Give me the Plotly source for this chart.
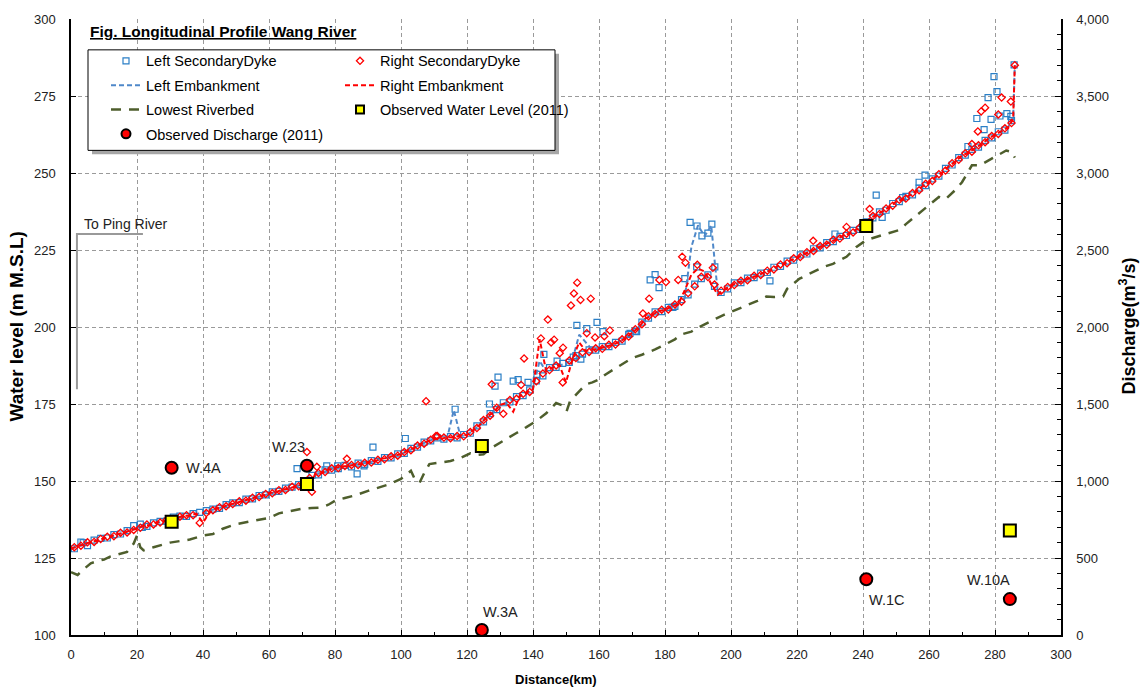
import plotly.graph_objects as go

FONT = "Liberation Sans, Arial, sans-serif"

# ---------------- data ----------------
# embankment profiles (km every 2 km, plus the last two points)
emb_km = list(range(0, 285, 2)) + [285.5, 286]
left_emb = [
    128.1, 128.8, 129.5, 130.1, 130.7, 131.3, 132.0, 132.6, 133.2, 133.9,
    134.6, 135.3, 135.8, 136.4, 137.0, 137.5, 138.0, 138.5, 138.9, 139.3,
    139.7, 140.4, 141.0, 141.7, 142.3, 142.9, 143.5, 144.1, 144.7, 145.3,
    145.9, 146.5, 147.1, 147.6, 148.2, 148.8, 150.5, 152.0, 152.7, 153.5,
    154.3, 154.6, 154.9, 155.2, 155.6, 155.9, 156.5, 157.0, 157.6, 158.1,
    158.7, 159.7, 160.8, 161.8, 162.9, 163.6, 163.8, 164.0, 173.0, 164.6,
    165.0, 166.5, 168.5, 170.5, 172.5, 174.5, 175.5, 176.5, 177.5, 178.5,
    180.0, 189.0, 185.5, 187.0, 187.5, 188.2, 189.5, 197.5, 195.0, 192.5,
    193.0, 193.5, 194.3, 195.0, 196.5, 197.9, 200.0, 202.5, 204.0, 205.0,
    205.6, 206.5, 207.5, 209.5, 226.0, 233.0, 229.5, 233.0, 211.0, 212.0,
    213.5, 214.3, 215.1, 215.9, 216.7, 217.5, 218.5, 219.5, 220.5, 221.5,
    222.5, 223.5, 224.5, 225.5, 226.5, 227.5, 228.5, 229.5, 230.5, 231.5,
    232.5, 235.0, 236.5, 237.5, 239.0, 240.5, 241.5, 242.5, 244.0, 245.5,
    247.0, 248.5, 250.2, 252.0, 253.8, 255.5, 256.7, 257.9, 259.5, 261.0,
    262.5, 263.5, 265.0, 268.0, 285.0,
]
right_emb = [
    128.0, 128.9, 129.4, 130.3, 130.6, 131.4, 131.9, 132.8, 133.1, 134.0,
    134.5, 135.5, 135.7, 136.6, 136.9, 137.6, 137.9, 138.7, 138.8, 139.4,
    136.5, 139.8, 141.1, 141.6, 142.4, 142.8, 143.6, 144.0, 144.8, 145.2,
    146.0, 146.4, 147.2, 147.5, 148.3, 148.9, 147.5, 152.3, 152.6, 153.7,
    154.2, 154.8, 154.8, 155.4, 155.5, 156.1, 156.4, 157.2, 157.5, 158.3,
    158.6, 159.9, 160.7, 162.0, 162.8, 163.8, 163.7, 164.2, 164.1, 164.8,
    164.9, 166.7, 168.3, 170.8, 172.3, 174.7, 175.3, 172.5, 177.6, 178.7,
    179.8, 196.0, 185.7, 186.8, 187.7, 182.0, 189.7, 195.0, 192.2, 192.7,
    192.9, 193.7, 194.1, 195.2, 196.3, 198.1, 199.8, 202.7, 203.8, 205.2,
    205.5, 206.7, 207.3, 212.0, 217.0, 219.0, 218.0, 214.0, 210.5, 212.2,
    213.4, 214.5, 215.0, 216.1, 216.6, 217.7, 218.4, 219.7, 220.4, 221.7,
    222.4, 223.7, 224.4, 225.7, 226.4, 227.7, 228.4, 229.7, 230.4, 231.7,
    232.4, 235.2, 236.4, 237.7, 238.9, 240.7, 241.4, 242.7, 243.9, 245.7,
    246.9, 248.7, 250.1, 252.2, 253.7, 255.7, 256.6, 258.1, 259.4, 261.2,
    262.4, 263.7, 264.8, 267.5, 285.0,
]

# secondary dykes, regular points at odd km
dyke_km = list(range(1, 286, 2))
left_dyke = [
    128.0, 130.2, 129.0, 130.8, 131.4, 131.5, 132.6, 132.8, 133.9, 135.5,
    136.0, 135.3, 136.4, 136.9, 137.0, 138.3, 138.6, 138.5, 139.4, 139.8,
    140.4, 140.9, 141.1, 142.3, 142.9, 143.0, 144.1, 144.2, 145.3, 145.5,
    146.5, 146.6, 147.7, 148.0, 148.8, 149.2, 151.8, 152.0, 153.6, 153.5,
    154.0, 155.1, 154.6, 155.8, 155.4, 156.6, 156.4, 157.6, 157.5, 158.8,
    159.0, 160.6, 161.0, 162.6, 163.0, 164.0, 163.6, 164.4, 164.0, 165.1,
    165.5, 167.9, 169.2, 171.9, 173.2, 175.4, 175.7, 177.4, 177.7, 179.6,
    182.5, 184.1, 186.8, 186.9, 188.2, 188.5, 190.7, 191.2, 192.6, 192.5,
    193.6, 193.6, 195.0, 195.4, 197.6, 198.7, 201.6, 202.9, 204.9, 205.0,
    206.4, 206.7, 208.9, 210.4, 213.9, 215.7, 216.9, 213.2, 211.2, 212.4,
    214.3, 214.4, 215.9, 216.0, 217.5, 217.7, 219.4, 219.7, 221.4, 221.7,
    223.4, 223.7, 225.4, 225.7, 227.4, 227.7, 229.4, 229.7, 231.4, 231.7,
    234.1, 235.4, 237.4, 237.9, 240.1, 240.7, 242.4, 242.9, 245.1, 245.9,
    248.1, 249.0, 251.5, 252.6, 255.0, 255.8, 257.7, 258.4, 260.6, 261.4,
    263.4, 263.9, 267.0,
]
right_dyke = [
    128.5, 129.0, 130.1, 130.2, 131.2, 131.9, 132.1, 133.2, 133.3, 134.1,
    134.8, 135.9, 135.9, 136.5, 137.4, 137.6, 138.4, 138.9, 138.9, 136.4,
    139.6, 140.5, 141.5, 141.8, 142.5, 143.4, 143.6, 144.6, 144.8, 145.8,
    146.0, 147.0, 147.1, 148.1, 148.3, 149.7, 146.5, 152.6, 152.9, 154.1,
    154.2, 154.9, 155.2, 155.2, 155.9, 156.0, 156.9, 157.1, 158.0, 158.2,
    159.4, 160.0, 161.5, 162.1, 163.4, 164.6, 164.1, 163.9, 164.6, 164.5,
    165.9, 167.2, 169.8, 171.2, 173.8, 171.8, 176.3, 176.7, 178.3, 178.9,
    182.4, 184.9, 186.0, 187.5, 182.0, 189.1, 189.9, 191.8, 191.9, 193.1,
    192.9, 194.2, 194.3, 196.0, 196.9, 199.3, 200.9, 203.5, 204.2, 205.6,
    205.7, 207.3, 208.2, 211.0, 213.2, 216.3, 216.2, 213.8, 211.8, 213.0,
    213.6, 215.0, 215.2, 216.6, 216.9, 218.3, 218.7, 220.3, 220.7, 222.3,
    222.7, 224.3, 224.7, 226.3, 226.7, 228.3, 228.7, 230.3, 230.7, 232.3,
    233.4, 236.0, 236.7, 238.5, 239.4, 241.3, 241.7, 243.5, 244.4, 246.5,
    247.4, 249.6, 250.8, 253.2, 254.3, 256.4, 256.9, 259.0, 260.0, 262.0,
    262.7, 264.5, 266.2,
]
# secondary dyke outliers
left_dyke_extra_km = [3.7, 21.6, 68.5, 77.5, 80.8, 86.7, 88.8, 91.5, 101.3, 116.4,
                      126.8, 128.5, 129.4, 134.0, 135.5, 138.5, 141.2, 143.3, 147.3, 152.2,
                      153.3, 154.5, 156.3, 159.4, 161.2, 169.4, 171.4, 175.5, 177.0, 178.2,
                      182.4, 186.0, 187.6, 189.6, 189.7, 191.2, 193.0, 194.2, 195.1, 211.8,
                      231.5, 244.0, 245.8, 252.0, 257.0, 258.8, 271.8, 274.5, 276.7, 277.9,
                      278.8, 279.7, 280.6, 281.5, 283.6, 284.8, 285.8]
left_dyke_extra = [130.0, 134.9, 154.0, 154.9, 154.9, 152.3, 154.9, 161.0, 163.8, 173.3,
                   175.0, 180.8, 183.7, 182.4, 182.9, 182.0, 184.6, 191.1, 188.9, 190.2,
                   200.5, 189.6, 199.5, 201.5, 198.5, 197.9, 198.5, 215.3, 217.0, 212.8,
                   206.4, 215.7, 234.0, 219.5, 232.8, 229.6, 230.5, 233.4, 219.5, 215.0,
                   230.2, 242.8, 235.6, 242.0, 247.0, 249.3, 258.6, 267.7, 264.1, 274.5,
                   267.4, 281.3, 276.4, 268.5, 269.3, 268.4, 285.1]
right_dyke_extra_km = [71.5, 72.3, 74.5, 83.6, 107.6, 110.6, 127.5, 136.4, 137.3, 142.4,
                       144.5, 145.5, 146.4, 148.1, 149.1, 151.5, 152.4, 153.4, 154.4, 156.3,
                       157.5, 158.8, 161.6, 163.3, 173.3, 175.2, 178.3, 180.3, 184.0, 185.2,
                       186.2, 189.8, 194.5, 224.9, 235.0, 242.0, 273.0, 274.8, 275.8, 277.0,
                       281.0, 282.0, 284.8, 286.0]
right_dyke_extra = [159.4, 151.0, 154.6, 157.2, 175.9, 164.6, 181.4, 181.2, 189.8, 196.3,
                    202.4, 195.0, 195.9, 191.5, 193.3, 207.0, 210.9, 214.4, 208.8, 198.0,
                    209.2, 196.6, 197.0, 198.9, 204.4, 209.2, 215.3, 214.6, 215.3, 222.8,
                    220.9, 220.2, 219.2, 228.0, 232.5, 238.3, 259.4, 263.5, 270.0, 271.2,
                    269.0, 274.5, 273.2, 285.0]

# lowest riverbed
bed_km = [0, 2, 4, 6, 8, 10, 12, 15, 17, 19, 20, 21, 22, 25, 28, 30, 33, 36, 40, 43,
          46, 50, 54, 58, 60, 63, 66, 70, 73, 76, 78, 80, 83, 86, 90, 93, 96, 100, 103, 104,
          105.6, 107, 108.6, 112, 115, 118, 121, 123, 125, 127, 130, 133, 135, 138, 141, 144, 147, 149, 150.2, 151.2,
          154, 156, 158, 160, 162, 165, 168, 170, 173, 177, 180, 183, 185, 188, 190, 193, 195.6, 198, 200.6, 203,
          205.7, 208, 210.7, 213, 215.8, 217, 220.8, 224.8, 228, 230.9, 235, 238, 241, 246, 251, 253, 256, 260, 263, 265,
          268, 270, 273, 275.4, 278.4, 281, 283.4, 285, 286]
bed_val = [120.4, 119.5, 121.5, 123.3, 124.0, 124.5, 125.5, 126.5, 127.0, 129.7, 132.3, 128.5, 127.5, 128.5, 129.5, 130.0, 130.5, 131.0, 132.3, 132.8,
           134.5, 136.0, 136.8, 137.5, 138.0, 139.5, 140.2, 141.0, 141.2, 141.4, 142.3, 143.6, 144.5, 145.3, 146.8, 147.7, 148.8, 150.7, 153.3, 151.0,
           149.4, 152.5, 155.5, 156.0, 156.5, 157.5, 159.0, 158.5, 158.7, 160.5, 162.5, 164.5, 165.6, 167.5, 169.5, 172.0, 175.3, 174.5, 172.7, 175.9,
           179.0, 181.4, 182.0, 183.0, 184.6, 186.5, 188.5, 189.9, 191.0, 192.7, 194.3, 196.0, 197.6, 198.5, 199.8, 201.5, 202.8, 204.0, 205.2, 206.3,
           207.3, 208.5, 209.9, 209.7, 209.9, 212.4, 215.7, 217.9, 219.5, 220.5, 222.8, 226.0, 228.2, 229.9, 231.5, 233.4, 236.0, 239.6, 242.2, 241.5,
           244.5, 247.0, 252.5, 252.5, 254.4, 256.0, 257.3, 256.9, 255.0]

# observed data 2011
wl_km = [30.5, 71.5, 124.5, 241.0, 284.5]
wl_val = [136.8, 149.0, 161.4, 232.8, 133.9]
q_km = [30.5, 71.5, 124.5, 241.0, 284.5]
q_val = [1086, 1099, 32, 362, 233]
stations = ["W.4A", "W.23", "W.3A", "W.1C", "W.10A"]
station_label_km = [40.3, 65.8, 130.0, 247.0, 277.9]
station_label_lvl = [154.3, 161.1, 107.4, 111.3, 117.8]

ping_label = "To Ping River"
ping_path_km = [21.8, 1.8, 1.8]
ping_path_lvl = [230.2, 230.2, 179.8]

# ---------------- figure ----------------
fig = go.Figure()

BLUE_M = "#2b7fc6"
BLUE_L = "#4f88c9"
RED = "#ff0000"
GREEN = "#4e5e2c"

fig.add_trace(go.Scatter(
    x=dyke_km + left_dyke_extra_km, y=left_dyke + left_dyke_extra, mode="markers",
    name="Left SecondaryDyke", legend="legend", legendgroup="a",
    marker=dict(symbol="square-open", size=6, color=BLUE_M, line=dict(width=1.2)),
))
fig.add_trace(go.Scatter(
    x=emb_km, y=left_emb, mode="lines", name="Left Embankment", legend="legend", legendgroup="b",
    line=dict(color=BLUE_L, width=2, dash="5px,3px"),
))
fig.add_trace(go.Scatter(
    x=dyke_km + right_dyke_extra_km, y=right_dyke + right_dyke_extra, mode="markers",
    name="Right SecondaryDyke", legend="legend2", legendgroup="c",
    marker=dict(symbol="diamond-open", size=5.5, color=RED, line=dict(width=1.3)),
))
fig.add_trace(go.Scatter(
    x=emb_km, y=right_emb, mode="lines", name="Right Embankment", legend="legend2", legendgroup="d",
    line=dict(color=RED, width=2, dash="5px,3px"),
))
fig.add_trace(go.Scatter(
    x=bed_km, y=bed_val, mode="lines", name="Lowest Riverbed", legend="legend", legendgroup="e",
    line=dict(color=GREEN, width=2.5, dash="10px,8px"),
))
# legend-only stand-ins with smaller symbols (the real markers are drawn below)
fig.add_trace(go.Scatter(
    x=[None], y=[None], mode="markers", name="Observed Water Level (2011)", legend="legend2",
    legendgroup="f", marker=dict(symbol="square", size=8, color="#ffff00", line=dict(color="black", width=2)),
))
fig.add_trace(go.Scatter(
    x=[None], y=[None], mode="markers", name="Observed Discharge (2011)", legend="legend",
    legendgroup="g", marker=dict(symbol="circle", size=9, color="#ff0000", line=dict(color="black", width=2)),
))
fig.add_trace(go.Scatter(
    x=wl_km, y=wl_val, mode="markers", name="Observed Water Level (2011)", showlegend=False,
    legendgroup="f",
    marker=dict(symbol="square", size=12, color="#ffff00", line=dict(color="black", width=2)),
    cliponaxis=False,
))
fig.add_trace(go.Scatter(
    x=q_km, y=q_val, mode="markers", name="Observed Discharge (2011)", showlegend=False,
    legendgroup="g", yaxis="y2",
    marker=dict(symbol="circle", size=12, color="#ff0000", line=dict(color="black", width=2)),
    cliponaxis=False,
))
fig.add_trace(go.Scatter(
    x=ping_path_km, y=ping_path_lvl, mode="lines", showlegend=False, hoverinfo="skip",
    line=dict(color="#999999", width=2),
))

annotations = []
for name, xk, yl in zip(stations, station_label_km, station_label_lvl):
    annotations.append(dict(x=xk, y=yl, xref="x", yref="y", text=name, showarrow=False,
                            font=dict(family=FONT, size=14.5, color="#222222")))
annotations.append(dict(x=3.3, y=233.4, xref="x", yref="y", text=ping_label, showarrow=False,
                        xanchor="left", font=dict(family=FONT, size=14, color="#222222")))
annotations.append(dict(x=17 / 990, y=1 - 13 / 619, xref="paper", yref="paper", xanchor="left",
                        yanchor="middle", showarrow=False,
                        text="<b><u>Fig. Longitudinal Profile Wang River</u></b>",
                        font=dict(family=FONT, size=15.5, color="black")))
# axis titles
annotations.append(dict(x=(556 - 71) / 990, y=1 - (680 - 16) / 619, xref="paper", yref="paper",
                        showarrow=False, text="<b>Distance(km)</b>", yanchor="middle", xanchor="center",
                        font=dict(family=FONT, size=13, color="black")))
annotations.append(dict(x=(17 - 71) / 990, y=1 - (325 - 16) / 619, xref="paper", yref="paper",
                        showarrow=False, text="<b>Water level (m M.S.L)</b>", textangle=-90,
                        xanchor="center", yanchor="middle",
                        font=dict(family=FONT, size=19, color="black")))
annotations.append(dict(x=(1128 - 71) / 990, y=1 - (325 - 16) / 619, xref="paper", yref="paper",
                        showarrow=False, text="<b>Discharge(m<sup>3</sup>/s)</b>", textangle=-90,
                        xanchor="center", yanchor="middle",
                        font=dict(family=FONT, size=18, color="black")))

shapes = [
    dict(type="rect", xref="paper", yref="paper", x0=21 / 990, x1=488 / 990,
         y0=1 - 136 / 619, y1=1 - 35 / 619, fillcolor="#a6a6a6", line=dict(width=0), layer="above"),
    dict(type="rect", xref="paper", yref="paper", x0=17 / 990, x1=484 / 990,
         y0=1 - 132 / 619, y1=1 - 31 / 619, fillcolor="white", line=dict(color="black", width=1), layer="above"),
]

legend_common = dict(bgcolor="rgba(0,0,0,0)", borderwidth=0, font=dict(family=FONT, size=14.5, color="black"),
                     orientation="v", yanchor="top", xanchor="left", tracegroupgap=2.5,
                     traceorder="grouped")

fig.update_layout(
    width=1142, height=693,
    margin=dict(l=71, r=81, t=16, b=58),
    paper_bgcolor="white", plot_bgcolor="white",
    font=dict(family=FONT, size=13, color="black"),
    showlegend=True,
    legend=dict(x=35 / 990, y=1 - 26 / 619, **legend_common),
    legend2=dict(x=269 / 990, y=1 - 26 / 619, **legend_common),
    annotations=annotations,
    shapes=shapes,
    xaxis=dict(range=[0, 300], dtick=20, tick0=0, showline=True, linecolor="black", linewidth=1.5,
               ticks="inside", ticklen=5, tickcolor="black", showgrid=True, gridcolor="#9a9a9a",
               griddash="4px,3px", gridwidth=1, zeroline=False, ticklabelstandoff=7,
               minor=dict(dtick=10, ticks="inside", ticklen=3, tickcolor="black", showgrid=False),
               tickfont=dict(family=FONT, size=13, color="#222222")),
    yaxis=dict(range=[100, 300], dtick=25, tick0=100, showline=True, linecolor="black", linewidth=1.5,
               ticks="inside", ticklen=5, tickcolor="black", showgrid=True, gridcolor="#9a9a9a",
               griddash="4px,3px", gridwidth=1, zeroline=False, ticklabelstandoff=11,
               tickfont=dict(family=FONT, size=13, color="#222222")),
    yaxis2=dict(range=[0, 4000], dtick=500, tick0=0, overlaying="y", side="right", showline=True,
                linecolor="black", linewidth=1.5, ticks="inside", ticklen=6, tickcolor="black",
                showgrid=False, zeroline=False, tickformat=",", ticklabelstandoff=11,
                minor=dict(dtick=100, ticks="inside", ticklen=4, tickcolor="black"),
                tickfont=dict(family=FONT, size=13, color="#222222")),
)

fig.write_html("out.html")
